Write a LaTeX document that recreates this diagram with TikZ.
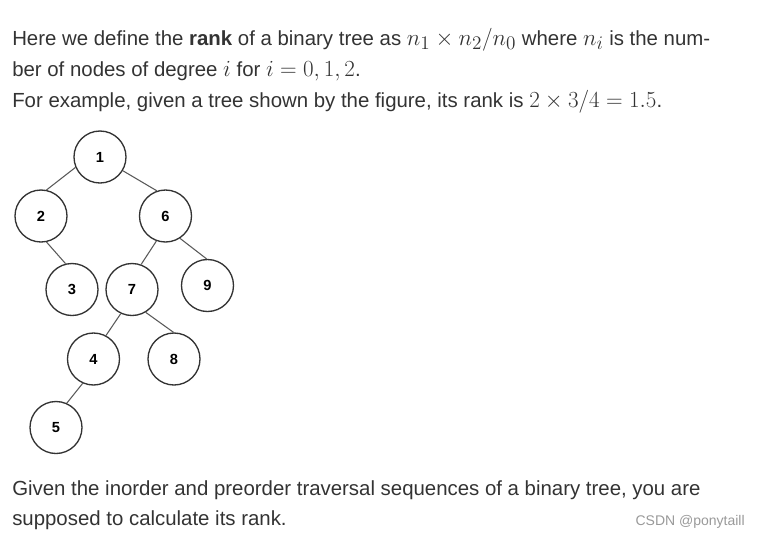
\documentclass[tikz,border=0pt]{standalone}
\usepackage{fontspec}
\setmainfont{Liberation Sans}
\usepackage{xcolor}
\usetikzlibrary{positioning}
\definecolor{txtgray}{HTML}{333333}
\definecolor{markgray}{HTML}{999999}
\newcommand\mth[1]{{\fontsize{19}{19}\selectfont$#1$}}

\begin{document}
\begin{tikzpicture}[
  x=0.75pt, y=-0.75pt,
  vert/.style={draw=txtgray, line width=1pt, circle, minimum size=39pt,
    inner sep=0pt, font=\bfseries\fontsize{11}{11}\selectfont},
  edge/.style={draw=black!65, line width=0.8pt},
  line/.style={anchor=base west, inner sep=0pt, text=txtgray,
    font=\fontsize{15.3}{15.3}\selectfont}
]
\useasboundingbox (0,0) rectangle (758,537);

% Text above
\node[line] (l1) at (12,45) {Here we define the \textbf{rank} of a binary tree as \mth{n_1\times n_2/n_0} where \mth{n_i} is the num-};
\node[line] (l2) at (12,76) {ber of nodes of degree \mth{i} for \mth{i=0,1,2}.};
\node[line] (l3) at (12,107) {For example, given a tree shown by the figure, its rank is \mth{2\times 3/4=1.5}.};

% Tree
\node[vert] (n1) at (100,157) {1};
\node[vert] (n2) at (41,216) {2};
\node[vert] (n6) at (165.5,216) {6};
\node[vert] (n3) at (72,289.5) {3};
\node[vert] (n7) at (132,289.5) {7};
\node[vert] (n9) at (207.5,285.5) {9};
\node[vert] (n4) at (93.5,359) {4};
\node[vert] (n8) at (174,359) {8};
\node[vert] (n5) at (56,427.5) {5};

\draw[edge] (n1.203) -- (n2.78);
\draw[edge] (n1.329) -- (n6.109);
\draw[edge] (n2.282) -- (n3.104);
\draw[edge] (n6.250) -- (n7.70);
\draw[edge] (n6.303) -- (n9.92);
\draw[edge] (n7.245) -- (n4.62);
\draw[edge] (n7.301) -- (n8.91);
\draw[edge] (n4.246) -- (n5.66);

% Text below
\node[line] (l4) at (12,495) {Given the inorder and preorder traversal sequences of a binary tree, you are};
\node[line] (l5) at (12,525) {supposed to calculate its rank.};
\node[anchor=base east, inner sep=0pt, text=markgray,
  font=\fontsize{10.5}{10.5}\selectfont] (mark) at (745,525) {CSDN @ponytaill};

\end{tikzpicture}
\end{document}
